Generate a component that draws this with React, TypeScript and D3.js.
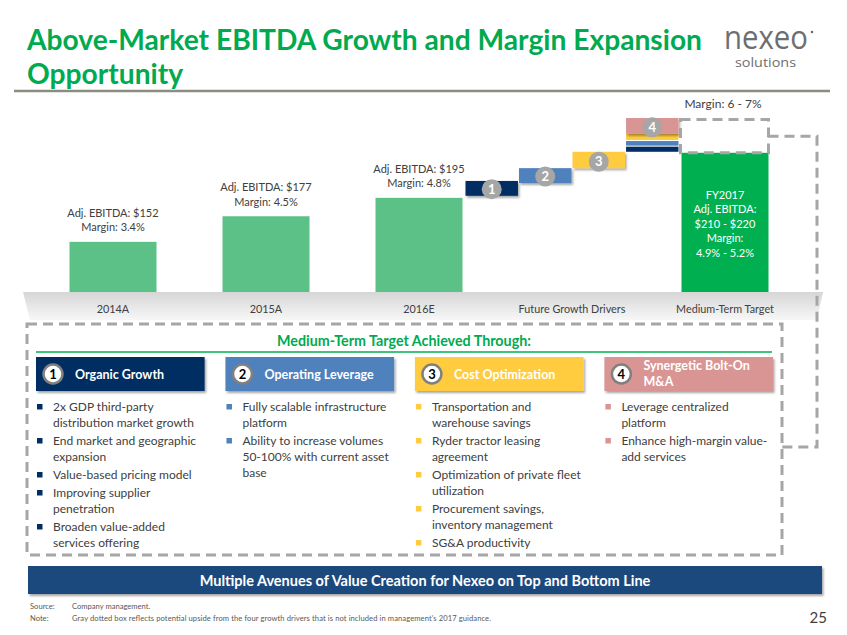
import React from 'react';
import * as d3 from 'd3';

const categories = ['2014A', '2015A', '2016E', 'Future Growth Drivers', 'Medium-Term Target'];
const historicalValues = [152, 177, 195];
const historicalMargins = ['3.4%', '4.5%', '4.8%'];
const driverIds = [1, 2, 3, 4];
const driverLow = [197, 209.5, 224, 257.5];
const driverHigh = [211.5, 224, 240, 273];
const driverColors = ['#002D62', '#4F81BD', '#FFCC3F', '#D99594'];
const recapLow = [240, 246, 251.5];
const recapHigh = [245, 250.5, 257.5];
const targetValue = 239;
const upsideHigh = 271.5;
const targetLines = ['FY2017', 'Adj. EBITDA:', '$210 - $220', 'Margin:', '4.9% - 5.2%'];
const upsideLabel = 'Margin: 6 - 7%';

const leverTitles = [['Organic Growth'], ['Operating Leverage'], ['Cost Optimization'], ['Synergetic Bolt-On', 'M&A']];
const leverBullets: string[][][] = [
  [
    ['2x GDP third-party', 'distribution market growth'],
    ['End market and geographic', 'expansion'],
    ['Value-based pricing model'],
    ['Improving supplier', 'penetration'],
    ['Broaden value-added', 'services offering'],
  ],
  [
    ['Fully scalable infrastructure', 'platform'],
    ['Ability to increase volumes', '50-100% with current asset', 'base'],
  ],
  [
    ['Transportation and', 'warehouse savings'],
    ['Ryder tractor leasing', 'agreement'],
    ['Optimization of private fleet', 'utilization'],
    ['Procurement savings,', 'inventory management'],
    ['SG&A productivity'],
  ],
  [
    ['Leverage centralized', 'platform'],
    ['Enhance high-margin value-', 'add services'],
  ],
];

const FONT = 'Lato, "Liberation Sans", sans-serif';
const TXT = '#404040';
const DASH = '#a6a6a6';

export default function App() {
  const floorY = 292;
  const x = d3.scalePoint<string>().domain(categories).range([113, 725]);
  const y = d3.scaleLinear().domain([103, 273]).range([floorY, 118]);
  const barW = 87;
  const cDrivers = x(categories[3])!;
  const xd = d3.scaleBand<number>().domain(driverIds).range([cDrivers - 106.5, cDrivers + 106.5]).paddingInner(0.02);
  const cTarget = x(categories[4])!;
  const xl = d3.scaleBand<number>().domain([0, 1, 2, 3]).range([36, 773]).paddingInner(0.11);

  const bulletRows = leverBullets.map((items) => {
    let base = 411;
    return items.map((lines) => {
      const row = { lines, y: base };
      base += lines.length * 16 + 2;
      return row;
    });
  });

  return (
    <svg width={847} height={635} style={{ position: 'absolute', left: 0, top: 0, background: '#fff' }} fontFamily={FONT}>
      <defs>
        <filter id="sh" x="-10%" y="-20%" width="130%" height="160%">
          <feDropShadow dx="1.5" dy="2" stdDeviation="1.2" floodColor="#000" floodOpacity="0.35" />
        </filter>
        <linearGradient id="floor" x1="0" y1="0" x2="0" y2="1">
          <stop offset="0" stopColor="#d6d6d6" />
          <stop offset="1" stopColor="#f7f7f7" />
        </linearGradient>
      </defs>

      {/* Title */}
      <text x={27} y={50} fontSize={28.2} fontWeight="bold" fill="#00AA4F">Above-Market EBITDA Growth and Margin Expansion</text>
      <text x={27} y={84} fontSize={28.2} fontWeight="bold" fill="#00AA4F">Opportunity</text>
      <line x1={14} x2={830} y1={91} y2={91} stroke="#8c8c80" strokeWidth={2.5} />
      {/* Logo */}
      <text x={724} y={49} fontSize={32} fill="#6d6e71" textLength={84} lengthAdjust="spacingAndGlyphs" fontFamily='"Open Sans", sans-serif'>nexeo</text>
      <circle cx={812} cy={32} r={1.3} fill="#6d6e71" />
      <text x={735} y={67} fontSize={12} fill="#6d6e71" textLength={61} lengthAdjust="spacingAndGlyphs" fontFamily='"Open Sans", sans-serif'>solutions</text>

      {/* Floor */}
      <polygon points={`23,${floorY} 823,${floorY} 817,320 30,320`} fill="url(#floor)" />

      {/* Historical bars */}
      {historicalValues.map((v, i) => {
        const cx = x(categories[i])!;
        const top = y(v);
        return (
          <g key={i}>
            <rect x={cx - barW / 2} y={top} width={barW} height={floorY - top} fill="#5CC187" />
            <text x={cx} y={top - 25} fontSize={11} fill={TXT} textAnchor="middle">{`Adj. EBITDA: $${v}`}</text>
            <text x={cx} y={top - 10.5} fontSize={11} fill={TXT} textAnchor="middle">{`Margin: ${historicalMargins[i]}`}</text>
          </g>
        );
      })}

      {/* Drivers waterfall */}
      {recapLow.map((lo, i) => (
        <rect key={'r' + i} x={xd(4)!} y={y(recapHigh[i])} width={xd.bandwidth()} height={y(lo) - y(recapHigh[i])} fill={driverColors[i]} />
      ))}
      {driverIds.map((id, i) => {
        const top = y(driverHigh[i]);
        const bot = y(driverLow[i]);
        const cx = xd(id)! + xd.bandwidth() / 2;
        return (
          <g key={'d' + id}>
            <rect x={xd(id)!} y={top} width={xd.bandwidth()} height={bot - top} fill={driverColors[i]} filter="url(#sh)" />
            <circle cx={cx} cy={bot - 6.5} r={10} fill="#a6a6a6" />
            <text x={cx} y={bot - 2} fontSize={13} fontWeight="bold" fill="#fff" textAnchor="middle">{id}</text>
          </g>
        );
      })}

      {/* Medium-term target */}
      <rect x={cTarget - barW / 2} y={y(targetValue)} width={barW} height={floorY - y(targetValue)} fill="#00B050" />
      {targetLines.map((t, i) => (
        <text key={t} x={cTarget} y={y(targetValue) + 46 + i * 14.5} fontSize={11} fill="#fff" textAnchor="middle">{t}</text>
      ))}
      <rect x={cTarget - barW / 2 - 1} y={y(upsideHigh)} width={barW + 1} height={y(targetValue) - y(upsideHigh)} fill="none" stroke={DASH} strokeWidth={3} strokeDasharray="10 6" />
      <text x={cTarget - 2} y={y(upsideHigh) - 12} fontSize={12} fill={TXT} textAnchor="middle">{upsideLabel}</text>
      <path d={`M${cTarget + barW / 2},${(y(upsideHigh) + y(targetValue)) / 2} H817 V447 H782`} fill="none" stroke={DASH} strokeWidth={3} strokeDasharray="10 6" />

      {/* Category labels */}
      {categories.map((c) => (
        <text key={c} x={x(c)!} y={313} fontSize={10.8} fill={TXT} textAnchor="middle">{c}</text>
      ))}

      {/* Lower dashed box */}
      <rect x={27} y={324} width={755} height={231} fill="none" stroke={DASH} strokeWidth={3} strokeDasharray="10 6" />
      <text x={404} y={346} fontSize={14.3} fontWeight="bold" fill="#00AA4F" textAnchor="middle">Medium-Term Target Achieved Through:</text>
      <line x1={36} x2={772} y1={352} y2={352} stroke="#00B050" strokeWidth={1.5} />

      {leverTitles.map((lines, i) => {
        const bx = xl(i)!;
        return (
          <g key={'l' + i}>
            <rect x={bx} y={357} width={xl.bandwidth()} height={34} fill={driverColors[i]} filter="url(#sh)" />
            <circle cx={bx + 17} cy={374} r={9.5} fill="#fff" stroke="#808080" strokeWidth={2.5} />
            <text x={bx + 17} y={378.5} fontSize={13} fontWeight="bold" fill="#000" textAnchor="middle">{i + 1}</text>
            {lines.map((t, j) => (
              <text key={t} x={bx + 39} y={lines.length === 1 ? 379 : 370 + j * 16} fontSize={12.5} fontWeight="bold" fill="#fff">{t}</text>
            ))}
            {bulletRows[i].map((row, k) => (
              <g key={k}>
                <rect x={bx + 1} y={row.y - 7} width={5.5} height={5.5} fill={driverColors[i]} />
                {row.lines.map((t, j) => (
                  <text key={j} x={bx + 17} y={row.y + j * 16} fontSize={12} fill={TXT}>{t}</text>
                ))}
              </g>
            ))}
          </g>
        );
      })}

      {/* Footer banner */}
      <rect x={28} y={566} width={794} height={28} fill="#1F497D" filter="url(#sh)" />
      <text x={425} y={586} fontSize={14.5} fontWeight="bold" fill="#fff" textAnchor="middle">Multiple Avenues of Value Creation for Nexeo on Top and Bottom Line</text>

      <text x={30} y={609} fontSize={7.6} fill="#595959">Source:</text>
      <text x={72} y={609} fontSize={7.6} fill="#595959">Company management.</text>
      <text x={30} y={621} fontSize={7.6} fill="#595959">Note:</text>
      <text x={72} y={621} fontSize={7.6} fill="#595959" textLength={419} lengthAdjust="spacing">Gray dotted box reflects potential upside from the four growth drivers that is not included in management’s 2017 guidance.</text>
      <text x={827} y={623} fontSize={15} fill={TXT} textAnchor="end">25</text>
    </svg>
  );
}
